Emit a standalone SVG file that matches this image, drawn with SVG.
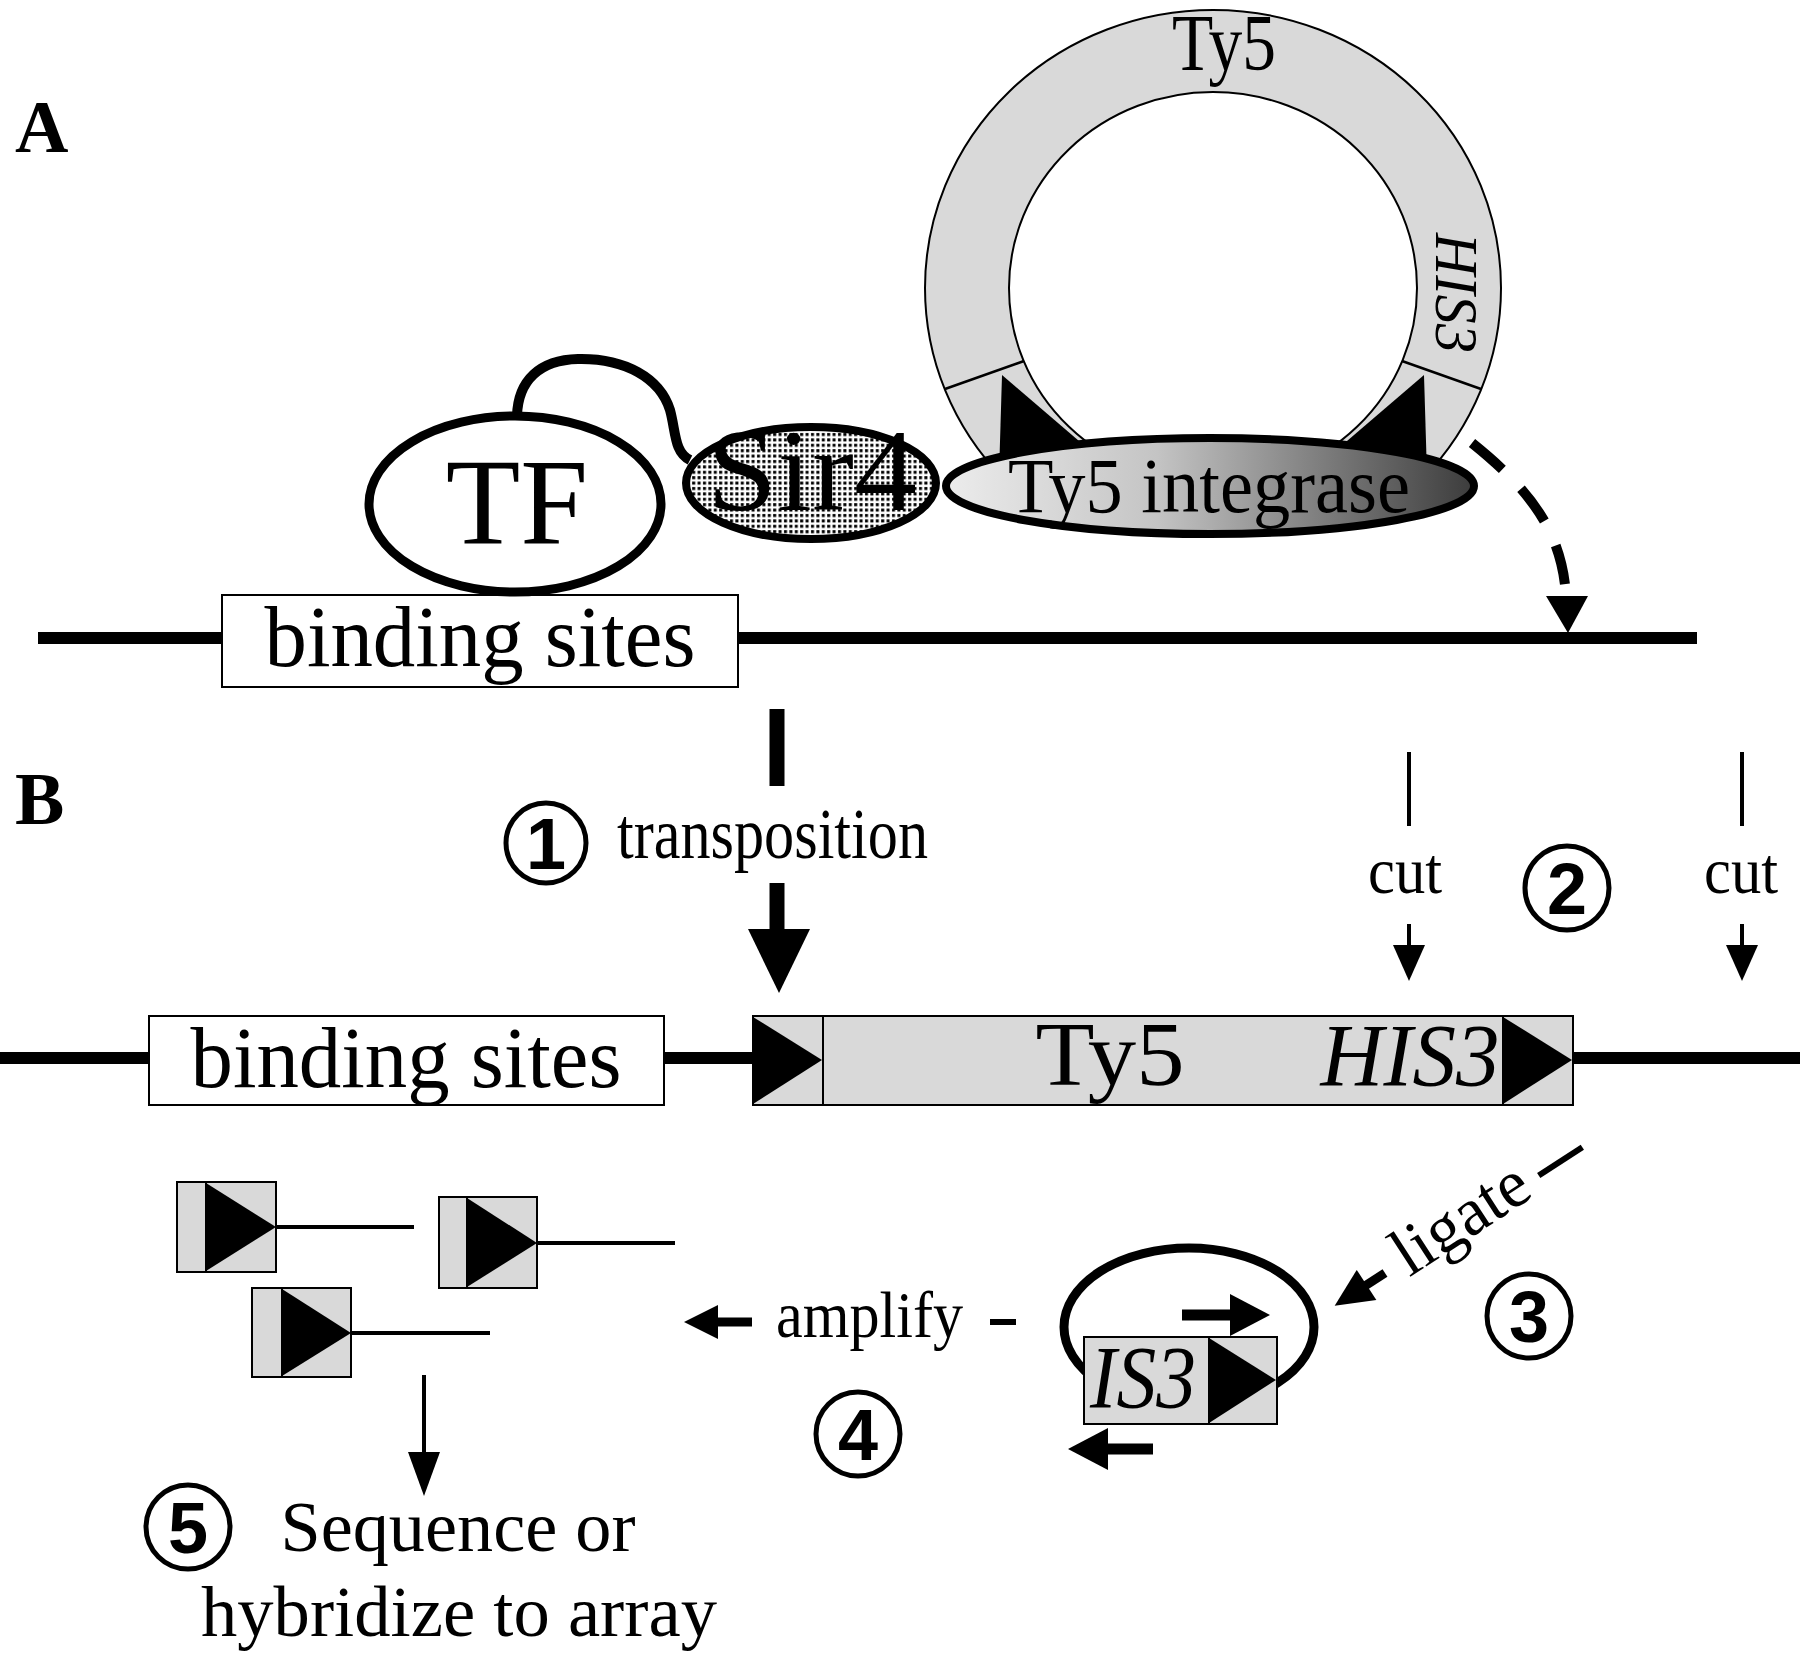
<svg xmlns="http://www.w3.org/2000/svg" width="1800" height="1659" viewBox="0 0 1800 1659">
<defs>
<style>
.t{font-family:"Liberation Serif","Times New Roman",serif;fill:#000}
.it{font-style:italic}
.lab{font-family:"Liberation Serif","Times New Roman",serif;font-weight:bold;fill:#000}
.num{font-family:"Liberation Sans",Arial,sans-serif;font-weight:bold;fill:#000;text-anchor:middle}
.circ{fill:#fff;stroke:#000;stroke-width:5}
.gray{fill:#d9d9d9;stroke:#000;stroke-width:2}
.white{fill:#fff;stroke:#000;stroke-width:2}
.dna{stroke:#000;stroke-width:12;fill:none}
.thin{stroke:#000;stroke-width:4;fill:none}
.head{fill:#000;stroke:none}
.tri{fill:#000;stroke:none}
</style>
<pattern id="dots" width="5.4" height="5.4" patternUnits="userSpaceOnUse">
<rect width="5.4" height="5.4" fill="#fff"/>
<rect x="1" y="1" width="3" height="3" fill="#000"/>
</pattern>
<linearGradient id="intg" x1="0" y1="0" x2="1" y2="0">
<stop offset="0" stop-color="#ececec"/>
<stop offset="0.4" stop-color="#c4c4c4"/>
<stop offset="1" stop-color="#3c3c3c"/>
</linearGradient>
<clipPath id="ringclip"><rect x="880" y="0" width="700" height="478"/></clipPath>
</defs>
<rect width="1800" height="1659" fill="#fff"/>

<text class="lab" x="15" y="152" font-size="74">A</text>
<text class="lab" x="15" y="824" font-size="74">B</text>

<!-- Panel A -->
<g id="dnaA">
<line class="dna" x1="38" y1="638" x2="1697" y2="638"/>
</g>
<g id="bindingA">
<rect class="white" x="222" y="595" width="516" height="92"/>
<text class="t" x="480" y="666" font-size="86" text-anchor="middle" textLength="431" lengthAdjust="spacingAndGlyphs">binding sites</text>
</g>
<g id="ring">
<g clip-path="url(#ringclip)">
<path class="gray" fill-rule="evenodd" stroke-width="2" d="M925 288a288 278 0 1 0 576 0a288 278 0 1 0-576 0ZM1009 288a204 196 0 1 0 408 0a204 196 0 1 0-408 0Z"/>
<line x1="945" y1="389" x2="1024" y2="361" stroke="#000" stroke-width="2.5"/>
<line x1="1402" y1="361" x2="1481" y2="389" stroke="#000" stroke-width="2.5"/>
<polygon class="tri" points="1002,375 999,475 1086,447"/>
<polygon class="tri" points="1424,375 1427,475 1340,447"/>
</g>
<text class="t" x="1224" y="70" font-size="80" text-anchor="middle" textLength="104" lengthAdjust="spacingAndGlyphs">Ty5</text>
<text class="t it" transform="translate(1436,293) rotate(90)" x="0" y="0" font-size="62" text-anchor="middle" textLength="120" lengthAdjust="spacingAndGlyphs">HIS3</text>
</g>
<g id="tether">
<path d="M517 416C518 380 540 360 578 359C625 358 660 378 670 410C676 432 674 452 690 460" fill="none" stroke="#000" stroke-width="10"/>
</g>
<g id="TF">
<ellipse cx="515" cy="504" rx="146" ry="88" fill="#fff" stroke="#000" stroke-width="9"/>
<text class="t" x="517" y="543" font-size="122" text-anchor="middle">TF</text>
</g>
<g id="Sir4">
<ellipse cx="811" cy="483" rx="125" ry="56" fill="url(#dots)" stroke="#000" stroke-width="8"/>
<text class="t" x="812" y="510" font-size="116" text-anchor="middle" textLength="210" lengthAdjust="spacingAndGlyphs">Sir4</text>
</g>
<g id="integrase">
<ellipse cx="1210" cy="486" rx="264" ry="48" fill="url(#intg)" stroke="#000" stroke-width="8"/>
<text class="t" x="1209" y="512" font-size="78" text-anchor="middle" textLength="402" lengthAdjust="spacingAndGlyphs">Ty5 integrase</text>
</g>

<!-- Panel B -->
<g id="dnaB">
<line class="dna" x1="0" y1="1058" x2="1800" y2="1058"/>
</g>
<g id="bindingB">
<rect class="white" x="149" y="1016" width="515" height="89"/>
<text class="t" x="406" y="1087" font-size="86" text-anchor="middle" textLength="431" lengthAdjust="spacingAndGlyphs">binding sites</text>
</g>
<g id="ty5element">
<rect class="gray" x="753" y="1016" width="70" height="89"/>
<rect class="gray" x="823" y="1016" width="680" height="89"/>
<rect class="gray" x="1503" y="1016" width="70" height="89"/>
<polygon class="tri" points="753,1017 753,1104 822,1060"/>
<polygon class="tri" points="1503,1017 1503,1104 1572,1060"/>
<text class="t" x="1110" y="1085" font-size="90" text-anchor="middle" textLength="149" lengthAdjust="spacingAndGlyphs">Ty5</text>
<text class="t it" x="1410" y="1085" font-size="88" text-anchor="middle" textLength="179" lengthAdjust="spacingAndGlyphs">HIS3</text>
</g>
<g id="fragments">
<rect class="gray" x="177" y="1182" width="99" height="90"/>
<line x1="206" y1="1182" x2="206" y2="1272" stroke="#000" stroke-width="2"/>
<polygon class="tri" points="206,1183 206,1271 276,1227"/>
<line class="thin" x1="276" y1="1227" x2="414" y2="1227" stroke-width="6"/>
<rect class="gray" x="439" y="1197" width="98" height="91"/>
<line x1="467" y1="1197" x2="467" y2="1288" stroke="#000" stroke-width="2"/>
<polygon class="tri" points="467,1198 467,1287 537,1243"/>
<line class="thin" x1="537" y1="1243" x2="675" y2="1243" stroke-width="6"/>
<rect class="gray" x="252" y="1288" width="99" height="89"/>
<line x1="282" y1="1288" x2="282" y2="1377" stroke="#000" stroke-width="2"/>
<polygon class="tri" points="282,1289 282,1376 351,1333"/>
<line class="thin" x1="351" y1="1333" x2="490" y2="1333" stroke-width="6"/>
</g>
<g id="IS3circle">
<ellipse cx="1189" cy="1327" rx="125" ry="79" fill="none" stroke="#000" stroke-width="9"/>
<rect class="gray" x="1084" y="1337" width="125" height="87"/>
<rect class="gray" x="1209" y="1337" width="68" height="87"/>
<polygon class="tri" points="1209,1338 1209,1423 1276,1380"/>
<text class="t it" x="1143" y="1407" font-size="88" text-anchor="middle" textLength="106" lengthAdjust="spacingAndGlyphs">IS3</text>
</g>
<g id="labels">
<text class="t" x="617" y="858" font-size="72" textLength="311" lengthAdjust="spacingAndGlyphs">transposition</text>
<text class="t" x="1405" y="893" font-size="66" text-anchor="middle" textLength="74" lengthAdjust="spacingAndGlyphs">cut</text>
<text class="t" x="1741" y="893" font-size="66" text-anchor="middle" textLength="74" lengthAdjust="spacingAndGlyphs">cut</text>
<text class="t" x="776" y="1337" font-size="66" textLength="187" lengthAdjust="spacingAndGlyphs">amplify</text>
<text class="t" transform="translate(1385,1273) rotate(-33)" x="93" y="17" font-size="68" text-anchor="middle" textLength="150" lengthAdjust="spacingAndGlyphs">ligate</text>
<text class="t" x="458" y="1551" font-size="72" text-anchor="middle" textLength="355" lengthAdjust="spacingAndGlyphs">Sequence or</text>
<text class="t" x="459" y="1636" font-size="72" text-anchor="middle" textLength="516" lengthAdjust="spacingAndGlyphs">hybridize to array</text>
</g>
<g id="step1"><circle class="circ" cx="546" cy="843" r="40"/><text class="num" x="546" y="869" font-size="72">1</text></g>
<g id="step2"><circle class="circ" cx="1567" cy="888" r="42"/><text class="num" x="1567" y="914" font-size="72">2</text></g>
<g id="step3"><circle class="circ" cx="1529" cy="1316" r="42"/><text class="num" x="1529" y="1342" font-size="72">3</text></g>
<g id="step4"><circle class="circ" cx="858" cy="1434" r="42"/><text class="num" x="858" y="1460" font-size="72">4</text></g>
<g id="step5"><circle class="circ" cx="188" cy="1527" r="42"/><text class="num" x="188" y="1553" font-size="72">5</text></g>

<g id="connectors">
<!-- dashed integration arrow -->
<path d="M1472 443C1528 488 1562 530 1566 596" fill="none" stroke="#000" stroke-width="10" stroke-dasharray="40 27"/>
<polygon class="head" points="1546,596 1588,596 1568,633"/>
<!-- transposition arrow -->
<line x1="777" y1="709" x2="777" y2="786" stroke="#000" stroke-width="15"/>
<line x1="777" y1="883" x2="777" y2="931" stroke="#000" stroke-width="15"/>
<polygon class="head" points="748,929 810,929 779,993"/>
<!-- cut arrows -->
<line x1="1409" y1="752" x2="1409" y2="826" stroke="#000" stroke-width="4"/>
<line x1="1409" y1="924" x2="1409" y2="947" stroke="#000" stroke-width="4"/>
<polygon class="head" points="1393,945 1425,945 1409,981"/>
<line x1="1742" y1="752" x2="1742" y2="826" stroke="#000" stroke-width="4"/>
<line x1="1742" y1="924" x2="1742" y2="947" stroke="#000" stroke-width="4"/>
<polygon class="head" points="1726,945 1758,945 1742,981"/>
<!-- ligate -->
<g transform="translate(1385,1273) rotate(-33)">
<line x1="182" y1="2" x2="234" y2="2" stroke="#000" stroke-width="6"/>
<line x1="0" y1="0" x2="-24" y2="0" stroke="#000" stroke-width="9"/>
<polygon class="head" points="-22,-18 -22,18 -60,0"/>
</g>
<!-- primer arrows -->
<line x1="1182" y1="1315" x2="1232" y2="1315" stroke="#000" stroke-width="11"/>
<polygon class="head" points="1230,1294 1230,1336 1270,1315"/>
<line x1="1153" y1="1449" x2="1106" y2="1449" stroke="#000" stroke-width="11"/>
<polygon class="head" points="1108,1428 1108,1470 1068,1449"/>
<!-- amplify -->
<line x1="990" y1="1322" x2="1016" y2="1322" stroke="#000" stroke-width="6"/>
<line x1="752" y1="1322" x2="716" y2="1322" stroke="#000" stroke-width="9"/>
<polygon class="head" points="718,1305 718,1339 684,1322"/>
<!-- to sequencing -->
<line x1="424" y1="1375" x2="424" y2="1455" stroke="#000" stroke-width="4"/>
<polygon class="head" points="408,1452 440,1452 424,1496"/>
</g>
</svg>
